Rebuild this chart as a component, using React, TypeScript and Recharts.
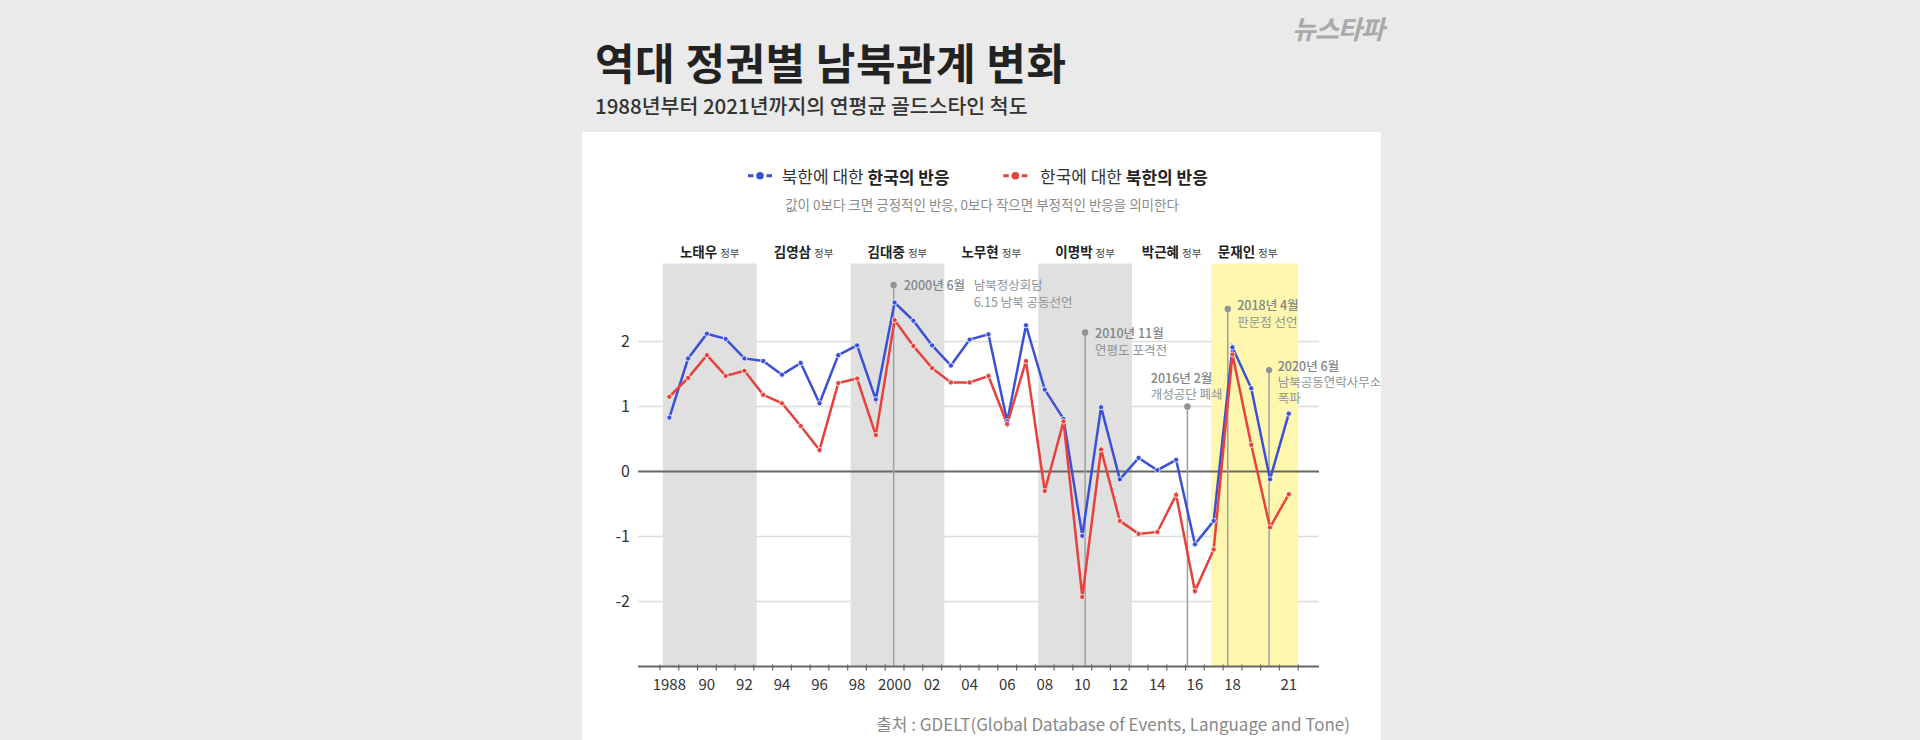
import {
  LineChart,
  Line,
  XAxis,
  YAxis,
  CartesianGrid,
  ReferenceArea,
  ReferenceLine,
  ReferenceDot,
} from "recharts"

// yearly average Goldstein scale, 1988-2021
const YEARS = [
  1988, 1989, 1990, 1991, 1992, 1993, 1994, 1995, 1996, 1997, 1998, 1999, 2000, 2001, 2002, 2003, 2004,
  2005, 2006, 2007, 2008, 2009, 2010, 2011, 2012, 2013, 2014, 2015, 2016, 2017, 2018, 2019, 2020, 2021,
]
// 북한에 대한 한국의 반응
const SK_REACTION = [
  0.83, 1.74, 2.12, 2.04, 1.74, 1.7, 1.49, 1.67, 1.05, 1.79, 1.94, 1.11, 2.6, 2.32, 1.94, 1.63, 2.03,
  2.11, 0.77, 2.25, 1.26, 0.81, -0.99, 0.99, -0.12, 0.21, 0.02, 0.18, -1.12, -0.76, 1.91, 1.28, -0.12, 0.89,
]
// 한국에 대한 북한의 반응
const NK_REACTION = [
  1.15, 1.44, 1.79, 1.47, 1.55, 1.18, 1.05, 0.7, 0.33, 1.36, 1.43, 0.56, 2.33, 1.93, 1.59, 1.37, 1.37,
  1.47, 0.73, 1.7, -0.3, 0.77, -1.93, 0.34, -0.76, -0.96, -0.93, -0.36, -1.84, -1.2, 1.8, 0.41, -0.86, -0.35,
]

const X_LABEL_YEARS = [1988, 1990, 1992, 1994, 1996, 1998, 2000, 2002, 2004, 2006, 2008, 2010, 2012, 2014, 2016, 2018, 2021]
const X_LABELS = ["1988", "90", "92", "94", "96", "98", "2000", "02", "04", "06", "08", "10", "12", "14", "16", "18", "21"]
const Y_TICKS = [-2, -1, 0, 1, 2]
const GRID_VALUES = [-2, -1, 1, 2]

// 정부 (decimal dates of inauguration)
const TERM_NAMES = ["노태우", "김영삼", "김대중", "노무현", "이명박", "박근혜", "문재인"]
const TERM_STARTS = [1988.15, 1993.15, 1998.15, 2003.15, 2008.15, 2013.15, 2017.36]
const DATA_END = 2022

// 주요 사건
const EVENT_DATES = [2000.45, 2010.65, 2016.1, 2018.25, 2020.45]
const EVENT_TITLES = ["2000년 6월", "2010년 11월", "2016년 2월", "2018년 4월", "2020년 6월"]
const EVENT_NOTES = [
  ["남북정상회담", "6.15 남북 공동선언"],
  ["연평도 포격전"],
  ["개성공단 폐쇄"],
  ["판문점 선언"],
  ["남북공동연락사무소", "폭파"],
]

// ---- styles / layout ----
const FONT = '"Noto Sans CJK KR", "Noto Sans", sans-serif'
const BLUE = "#3b50d8"
const RED = "#e8413c"
const TERM_FILLS = ["#e0e0e0", "none", "#e0e0e0", "none", "#e0e0e0", "none", "#fef7ad"]
const TERM_LABEL_DX = [0, 0, 0, 0, 0, 0, -7]
const EVENT_LAYOUT = [
  { pinY: 2.87, dx: 10, dy: 0, noteDx: 80, noteDy: 0, gap: 16.2 },
  { pinY: 2.14, dx: 10, dy: 0.3, noteDx: 10, noteDy: 16.8, gap: 16.2 },
  { pinY: 1.0, dx: -36.6, dy: -29.5, noteDx: -36.6, noteDy: -13.3, gap: 16.2 },
  { pinY: 2.5, dx: 9.4, dy: -4.3, noteDx: 9.4, noteDy: 12.4, gap: 16.2 },
  { pinY: 1.56, dx: 8.6, dy: -5, noteDx: 8.6, noteDy: 11.2, gap: 16.2 },
]

const data = YEARS.map((y, i) => ({ x: y + 0.5, sk: SK_REACTION[i], nk: NK_REACTION[i] }))
const tickBounds = [...YEARS, YEARS[YEARS.length - 1] + 1]
const xTicks = [...tickBounds, ...X_LABEL_YEARS.map((y) => y + 0.5)].sort((a, b) => a - b)

function XTick(props: any) {
  const { x, y, payload } = props
  const v = payload.value
  if (Number.isInteger(v)) {
    return <line x1={x} x2={x} y1={y - 2} y2={y + 4} stroke="#666" strokeWidth={1.2} />
  }
  const i = X_LABEL_YEARS.indexOf(Math.round(v - 0.5))
  if (i < 0) return null
  return (
    <text x={x} y={y + 17} textAnchor="middle" dominantBaseline="central" fontSize={15} fill="#333" fontFamily={FONT}>
      {X_LABELS[i]}
    </text>
  )
}

const termLabel = (i: number) => (props: any) => {
  const vb = props.viewBox || {}
  const cx = vb.x + vb.width / 2 + TERM_LABEL_DX[i]
  return (
    <text x={cx} y={vb.y - 6.5} textAnchor="middle" fontFamily={FONT}>
      <tspan fontSize={13.5} fontWeight={700} fill="#222">
        {TERM_NAMES[i]}
      </tspan>
      <tspan fontSize={10.5} fill="#444" dx={3}>
        정부
      </tspan>
    </text>
  )
}

const eventLabel = (i: number) => (props: any) => {
  const vb = props.viewBox || {}
  const cx = vb.cx ?? vb.x + (vb.width || 0) / 2
  const cy = vb.cy ?? vb.y + (vb.height || 0) / 2
  const l = EVENT_LAYOUT[i]
  return (
    <g fontFamily={FONT} fontSize={12.5}>
      <text x={cx + l.dx} y={cy + l.dy} dominantBaseline="central" fill="#7f868b" fontWeight={500}>
        {EVENT_TITLES[i]}
      </text>
      {EVENT_NOTES[i].map((t, k) => (
        <text key={k} x={cx + l.noteDx} y={cy + l.noteDy + k * l.gap} dominantBaseline="central" fill="#8d9398">
          {t}
        </text>
      ))}
    </g>
  )
}

export default function App() {
  return (
    <div style={{ position: "fixed", left: 0, top: 0, width: 1920, height: 740, background: "#eaeaea", overflow: "hidden" }}>
      <div style={{ position: "absolute", left: 582, top: 132, width: 799, height: 608, background: "#fff" }} />

      <div style={{ position: "absolute", left: 0, top: 0 }}>
        <LineChart
          width={1920}
          height={740}
          data={data}
          margin={{ top: 263.5, right: 601, bottom: 43.5, left: 598 }}
          style={{ fontFamily: FONT }}
        >
          {TERM_NAMES.map((n, i) => (
            <ReferenceArea
              key={n}
              x1={TERM_STARTS[i]}
              x2={i < TERM_STARTS.length - 1 ? TERM_STARTS[i + 1] : DATA_END}
              fill={TERM_FILLS[i]}
              fillOpacity={TERM_FILLS[i] === "none" ? 0 : 1}
              stroke="none"
              ifOverflow="visible"
              label={termLabel(i)}
            />
          ))}
          <CartesianGrid vertical={false} horizontalValues={GRID_VALUES} stroke="#dcdcdc" strokeWidth={1.5} />
          <XAxis
            type="number"
            dataKey="x"
            domain={[1986.83, 2023.11]}
            allowDataOverflow
            ticks={xTicks}
            interval={0}
            tickLine={false}
            tickSize={0}
            tickMargin={0}
            height={30}
            axisLine={{ stroke: "#666", strokeWidth: 2 }}
            tick={<XTick />}
          />
          <YAxis
            type="number"
            domain={[-3, 3.2]}
            allowDataOverflow
            ticks={Y_TICKS}
            width={40}
            axisLine={false}
            tickLine={false}
            tickSize={0}
            tickMargin={8}
            tick={{ fontSize: 16, fill: "#333", fontFamily: FONT }}
          />
          <ReferenceLine y={0} stroke="#666" strokeWidth={2} />
          {EVENT_DATES.map((d, i) => (
            <ReferenceLine
              key={"l" + i}
              segment={[
                { x: d, y: -3 },
                { x: d, y: EVENT_LAYOUT[i].pinY },
              ]}
              stroke="#9aa1a6"
              strokeWidth={1.5}
              ifOverflow="visible"
            />
          ))}
          <Line
            type="linear"
            dataKey="sk"
            stroke={BLUE}
            strokeWidth={2.5}
            dot={{ r: 2.6, fill: BLUE, stroke: "#fff", strokeWidth: 0.8 }}
            activeDot={false}
            isAnimationActive={false}
          />
          <Line
            type="linear"
            dataKey="nk"
            stroke={RED}
            strokeWidth={2.5}
            dot={{ r: 2.6, fill: RED, stroke: "#fff", strokeWidth: 0.8 }}
            activeDot={false}
            isAnimationActive={false}
          />
          {EVENT_DATES.map((d, i) => (
            <ReferenceDot
              key={"d" + i}
              x={d}
              y={EVENT_LAYOUT[i].pinY}
              r={3.2}
              fill="#8d9499"
              stroke="none"
              ifOverflow="visible"
              label={eventLabel(i)}
            />
          ))}
        </LineChart>
      </div>

      <svg width={1920} height={740} style={{ position: "absolute", left: 0, top: 0, pointerEvents: "none" }} fontFamily={FONT}>
        <text x={1292} y={27} dominantBaseline="central" fontSize={26} fontStyle="italic" fontWeight={700} fill="#a9a9a9" letterSpacing={-1}>
          뉴스타파
        </text>
        <text x={595} y={61} dominantBaseline="central" fontSize={43} fontWeight={700} fill="#222" letterSpacing={0.5}>
          역대 정권별 남북관계 변화
        </text>
        <text x={595} y={105} dominantBaseline="central" fontSize={20.5} fontWeight={500} fill="#333">
          1988년부터 2021년까지의 연평균 골드스타인 척도
        </text>

        {/* legend */}
        <line x1={748} x2={753.5} y1={175.7} y2={175.7} stroke={BLUE} strokeWidth={3} />
        <line x1={766.5} x2={772} y1={175.7} y2={175.7} stroke={BLUE} strokeWidth={3} />
        <circle cx={760} cy={175.7} r={3.8} fill={BLUE} />
        <text x={781.7} y={175.7} dominantBaseline="central" fontSize={17} fill="#333">
          북한에 대한 <tspan fontWeight={700} fill="#222">한국의 반응</tspan>
        </text>
        <line x1={1003.3} x2={1008.8} y1={175.7} y2={175.7} stroke={RED} strokeWidth={3} />
        <line x1={1021.8} x2={1027.3} y1={175.7} y2={175.7} stroke={RED} strokeWidth={3} />
        <circle cx={1015.3} cy={175.7} r={3.8} fill={RED} />
        <text x={1040} y={175.7} dominantBaseline="central" fontSize={17} fill="#333">
          한국에 대한 <tspan fontWeight={700} fill="#222">북한의 반응</tspan>
        </text>
        <text x={982} y={204.3} textAnchor="middle" dominantBaseline="central" fontSize={13.5} fill="#8b8b8b">
          값이 0보다 크면 긍정적인 반응, 0보다 작으면 부정적인 반응을 의미한다
        </text>

        <text x={1350} y={723.3} textAnchor="end" dominantBaseline="central" fontSize={17} fill="#888">
          출처 : GDELT(Global Database of Events, Language and Tone)
        </text>
      </svg>
    </div>
  )
}
